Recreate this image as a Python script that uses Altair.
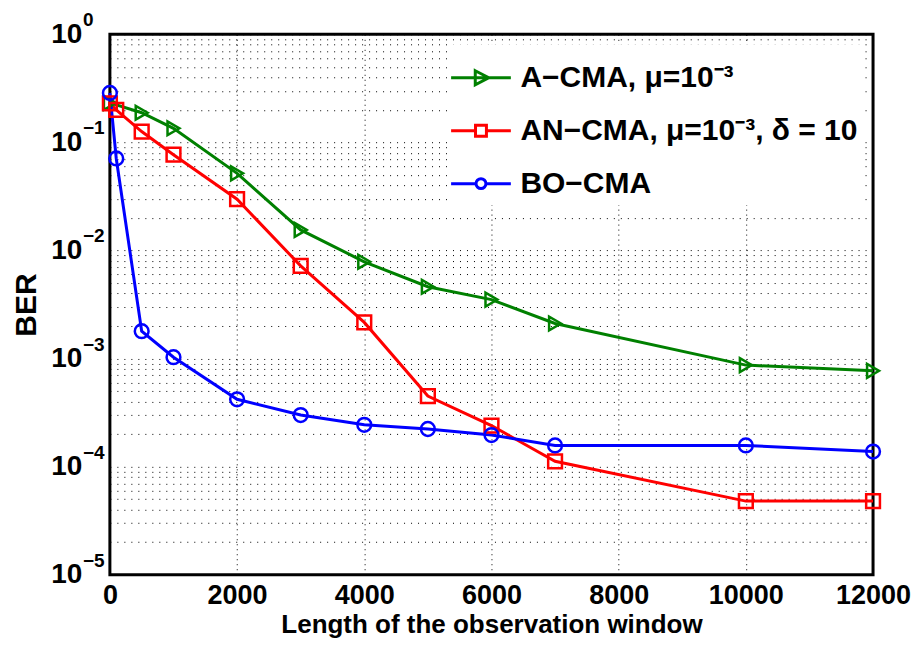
import altair as alt
import pandas as pd

# ---- data ----
x_a = [0, 500, 1000, 2000, 3000, 4000, 5000, 6000, 7000, 10000, 12000]
ber_a = [0.232, 0.188, 0.135, 0.0517, 0.0155, 0.00786, 0.00462, 0.00351, 0.00211, 0.00087, 0.00077]

x_an = [0, 100, 500, 1000, 2000, 3000, 4000, 5000, 6000, 7000, 10000, 12000]
ber_an = [0.23, 0.2, 0.126, 0.077, 0.0298, 0.0072, 0.00216, 0.00045, 0.00024, 0.000112, 0.000048, 0.000048]

x_bo = [0, 100, 500, 1000, 2000, 3000, 4000, 5000, 6000, 7000, 10000, 12000]
ber_bo = [0.287, 0.071, 0.00179, 0.00103, 0.00042, 0.0003, 0.000244, 0.000223, 0.000196, 0.000157, 0.000157, 0.000138]

labels = ["A\u2212CMA, \u03bc=10\u207b\u00b3",
          "AN\u2212CMA, \u03bc=10\u207b\u00b3, \u03b4 = 10",
          "BO\u2212CMA"]
colors = ["#008000", "#ff0000", "#0000ff"]
shapes = ["triangle-right", "square", "circle"]
legend_paths = [
    "M-1.15,0H1.15M-0.22,-0.27L0.3,0L-0.22,0.27Z",
    "M-1.15,0H-0.21M0.21,0H1.15M-0.21,-0.21H0.21V0.21H-0.21Z",
    "M-1.15,0H-0.19M0.19,0H1.15M-0.19,0A0.19,0.19 0 1,0 0.19,0A0.19,0.19 0 1,0 -0.19,0Z",
]

x_ticks = [0, 2000, 4000, 6000, 8000, 10000, 12000]
y_grid = [m * 10.0 ** e for e in range(-5, 0) for m in range(1, 10)] + [1.0]
decades = [1.0, 0.1, 0.01, 0.001, 0.0001, 0.00001]
exponents = ["0", "\u22121", "\u22122", "\u22123", "\u22124", "\u22125"]

rows = []
for lab, xs, ys in [(labels[0], x_a, ber_a), (labels[1], x_an, ber_an), (labels[2], x_bo, ber_bo)]:
    for xv, yv in zip(xs, ys):
        rows.append({"series": lab, "x": xv, "ber": yv})
df = pd.DataFrame(rows)
exp_df = pd.DataFrame({"ber": decades, "exp": exponents})

FONT = "Liberation Sans"

x_enc = alt.X("x:Q", scale=alt.Scale(domain=[0, 12000], nice=False),
              axis=alt.Axis(values=x_ticks, format="d", title="Length of the observation window",
                            grid=True, gridDash=[1, 4], gridColor="black", gridWidth=1,
                            domain=False, ticks=False, labelPadding=8, titlePadding=3,
                            labelFontSize=27, labelFontWeight="bold", labelFont=FONT,
                            titleFontSize=26, titleFontWeight="bold", titleFont=FONT,
                            labelColor="black", titleColor="black", labelFlush=False))

label_expr = ("abs(log(datum.value)/LN10 - round(log(datum.value)/LN10)) < 1e-6 ? '10' : ''")

y_enc = alt.Y("ber:Q", scale=alt.Scale(type="log", domain=[1e-5, 1], nice=False),
              axis=alt.Axis(values=y_grid, labelExpr=label_expr, title="BER",
                            grid=True, gridDash=[1, 6], gridColor="black", gridWidth=1,
                            domain=False, ticks=False, labelPadding=28, titlePadding=9,
                            labelOverlap=False, labelFlush=False,
                            labelFontSize=28, labelFontWeight="bold", labelFont=FONT,
                            titleFontSize=30, titleFontWeight="bold", titleFont=FONT,
                            labelColor="black", titleColor="black"))

color_scale = alt.Scale(domain=labels, range=colors)

lines = alt.Chart(df).mark_line(strokeWidth=3).encode(
    x=x_enc, y=y_enc,
    color=alt.Color("series:N", scale=color_scale, legend=None),
    detail="series:N",
)

points = alt.Chart(df).mark_point(filled=False, strokeWidth=2.5, size=190, opacity=1).encode(
    x="x:Q", y="ber:Q",
    color=alt.Color("series:N", scale=color_scale, legend=None),
    shape=alt.Shape("series:N", scale=alt.Scale(domain=labels, range=shapes), legend=None),
)

exp_text = alt.Chart(exp_df).mark_text(
    align="left", baseline="middle", dy=-14, fontSize=19, fontWeight="bold", font=FONT,
    color="black",
).encode(x=alt.value(-27), y="ber:Q", text="exp:N")

leg = alt.Legend(title=None, orient="none", legendX=338, legendY=10,
                 symbolSize=2704, symbolStrokeWidth=3, symbolOpacity=1,
                 symbolFillColor="transparent",
                 labelFontSize=30, labelFontWeight="bold", labelFont=FONT,
                 labelColor="black", labelOffset=12, rowPadding=10,
                 padding=6, fillColor="white", labelLimit=600)

legend_layer = alt.Chart(df).mark_point(filled=False, opacity=0).encode(
    x="x:Q", y="ber:Q",
    color=alt.Color("series:N", scale=color_scale, legend=leg),
    shape=alt.Shape("series:N", scale=alt.Scale(domain=labels, range=legend_paths), legend=leg),
)

chart = alt.layer(lines, points, legend_layer, exp_text).resolve_scale(
    color="independent", shape="independent"
).properties(
    width=764, height=541, background="white",
    padding={"left": 3, "top": 3, "right": 0, "bottom": 0},
).configure_view(stroke="black", strokeWidth=3)

chart.save("out.html", embed_options={"renderer": "svg", "actions": False})
